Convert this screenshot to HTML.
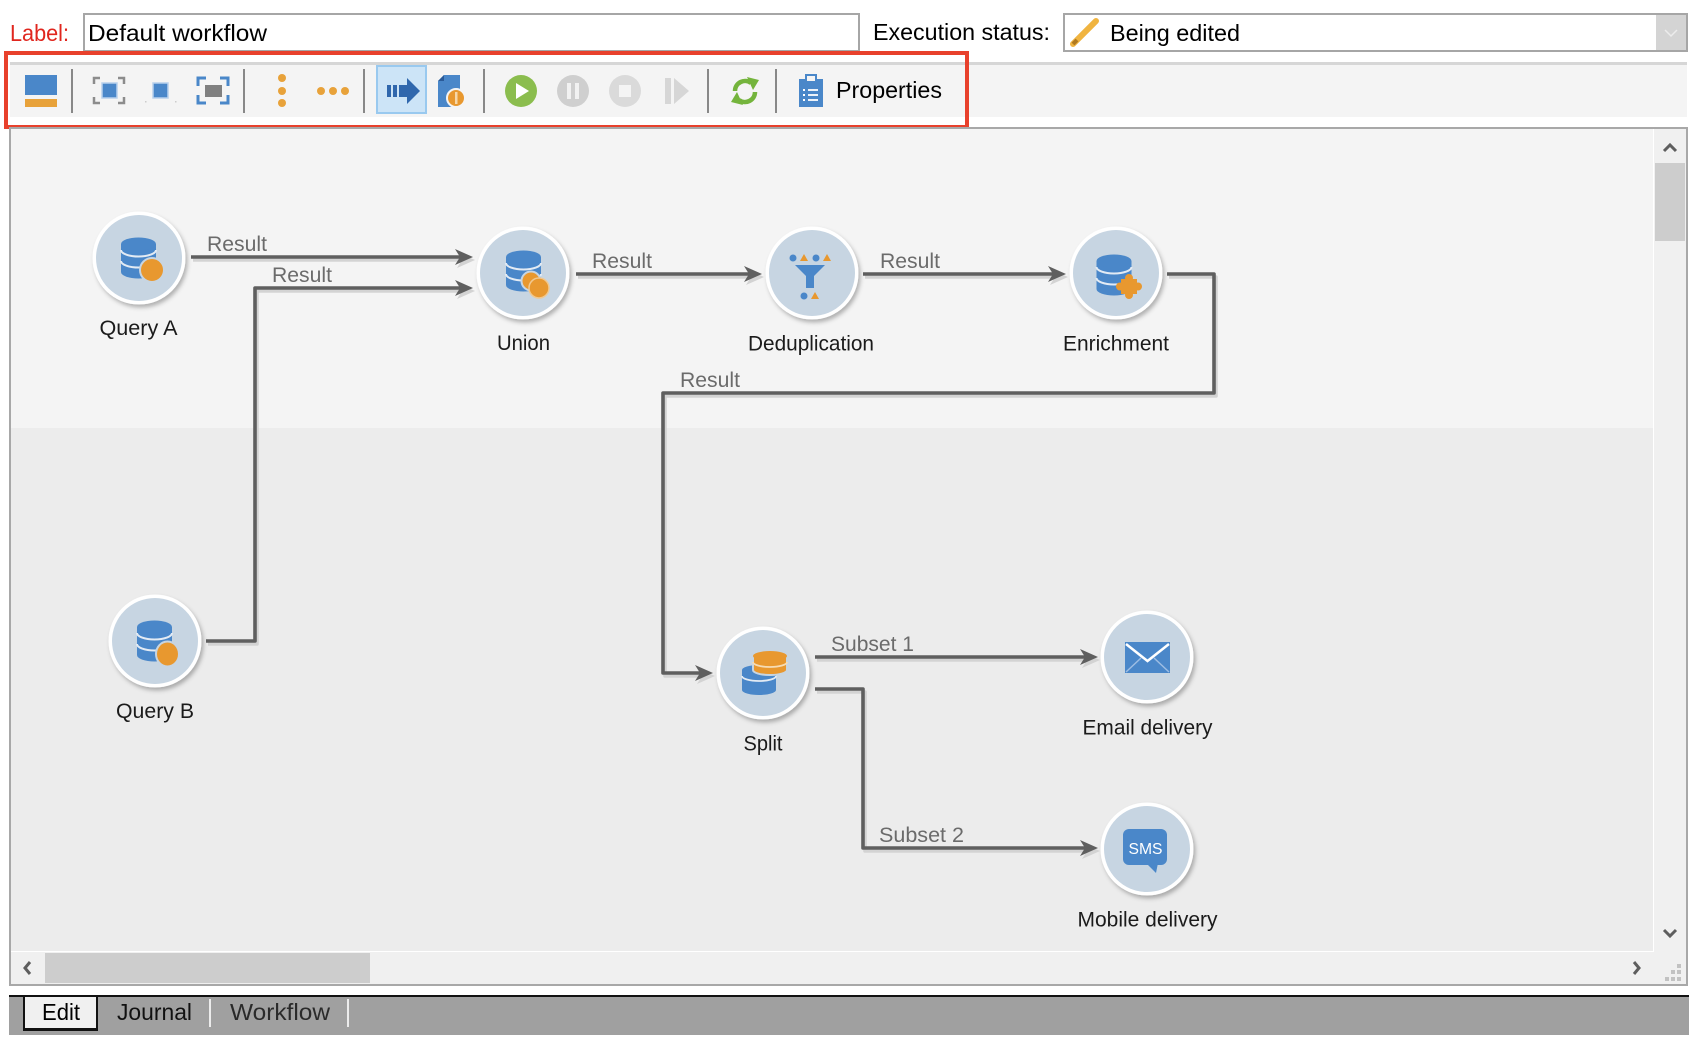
<!DOCTYPE html>
<html><head><meta charset="utf-8"><title>Workflow editor</title>
<style>
html,body{margin:0;padding:0;background:#fff;}
body{width:1702px;height:1041px;overflow:hidden;}
svg{display:block;}
</style></head>
<body>
<svg xmlns="http://www.w3.org/2000/svg" width="1702" height="1041" viewBox="0 0 1702 1041" font-family="'Liberation Sans', sans-serif">
<defs>
<filter id="sh" x="-30%" y="-30%" width="170%" height="170%">
<feDropShadow dx="2" dy="3" stdDeviation="2" flood-color="#000" flood-opacity="0.28"/>
</filter>
</defs>

<!-- ===== Header fields ===== -->
<text x="10" y="41" font-size="23" fill="#e0261e" textLength="59" lengthAdjust="spacingAndGlyphs">Label:</text>
<rect x="84" y="14" width="775" height="37" fill="#fff" stroke="#a6a6a6" stroke-width="2"/>
<text x="88" y="41" font-size="23" fill="#000" textLength="179" lengthAdjust="spacingAndGlyphs">Default workflow</text>

<text x="873" y="40" font-size="23" fill="#000" textLength="177" lengthAdjust="spacingAndGlyphs">Execution status:</text>
<rect x="1064" y="14" width="623" height="37" fill="#fff" stroke="#a6a6a6" stroke-width="2"/>
<rect x="1656" y="15" width="30" height="35" fill="#d4d4d4"/>
<polyline points="1665,30 1671,36 1677,30" fill="none" stroke="#ececec" stroke-width="1.5"/>
<!-- pencil -->
<line x1="1073" y1="44" x2="1096" y2="21" stroke="#f0b440" stroke-width="6" stroke-linecap="round"/>
<line x1="1073" y1="44" x2="1077" y2="40" stroke="#b07a20" stroke-width="4"/>
<text x="1110" y="41" font-size="23" fill="#000" textLength="130" lengthAdjust="spacingAndGlyphs">Being edited</text>

<!-- ===== Toolbar ===== -->
<rect x="10" y="62" width="1677" height="3" fill="#d6d6d6"/>
<rect x="10" y="65" width="1677" height="52" fill="#f4f4f4"/>

<!-- icon 1 -->
<rect x="25" y="75" width="32" height="20" fill="#4a87c9"/>
<rect x="25" y="99" width="32" height="8" fill="#e8a23a"/>
<!-- separators -->
<rect x="71" y="69" width="2" height="44" fill="#888"/>
<rect x="243" y="69" width="2" height="44" fill="#888"/>
<rect x="363" y="69" width="2" height="44" fill="#888"/>
<rect x="483" y="69" width="2" height="44" fill="#888"/>
<rect x="707" y="69" width="2" height="44" fill="#888"/>
<rect x="775" y="69" width="2" height="44" fill="#888"/>
<!-- icon 2 -->
<g fill="none" stroke="#8c8c8c" stroke-width="2.5">
<polyline points="94,84 94,78 100,78"/><polyline points="118,78 124,78 124,84"/>
<polyline points="94,97 94,103 100,103"/><polyline points="118,103 124,103 124,97"/>
</g>
<rect x="102" y="83" width="15" height="15" fill="#4a87c9" stroke="#b8d0ec" stroke-width="1.5"/>
<!-- icon 3 -->
<rect x="153" y="83" width="15" height="15" fill="#4a87c9" stroke="#b8d0ec" stroke-width="1.5"/>
<rect x="145" y="101" width="1.5" height="1.5" fill="#ccc"/><rect x="175" y="101" width="1.5" height="1.5" fill="#ccc"/>
<!-- icon 4 -->
<g fill="none" stroke="#4a87c9" stroke-width="3">
<polyline points="198,86 198,78 206,78"/><polyline points="220,78 228,78 228,86"/>
<polyline points="198,95 198,103 206,103"/><polyline points="220,103 228,103 228,95"/>
</g>
<rect x="205" y="85" width="17" height="12" fill="#808080"/>
<!-- icon 5/6 dots -->
<g fill="#e8a23a">
<circle cx="282" cy="78" r="4"/><circle cx="282" cy="91" r="4"/><circle cx="282" cy="103" r="4"/>
<circle cx="321" cy="91" r="4"/><circle cx="333" cy="91" r="4"/><circle cx="345" cy="91" r="4"/>
</g>
<!-- icon 7 highlighted -->
<rect x="377" y="66" width="49" height="47" fill="#cce4f7" stroke="#99c9ef" stroke-width="2"/>
<rect x="387" y="85" width="4" height="12" fill="#2f67ad"/>
<rect x="393" y="85" width="4" height="12" fill="#2f67ad"/>
<rect x="399" y="85" width="9" height="12" fill="#2f67ad"/>
<polygon points="407,78 420,91 407,104" fill="#2f67ad"/>
<!-- icon 8 -->
<path d="M444,75 H460 V107 H438 V81 Z" fill="#4a87c9"/>
<polygon points="438,81 444,75 444,81" fill="#2a5a98"/>
<circle cx="456" cy="98" r="9" fill="#e8982f" stroke="#f4f4f4" stroke-width="2"/>
<rect x="455" y="92" width="2.5" height="12" fill="#f6d7a8"/>
<!-- play / pause / stop / step -->
<circle cx="521" cy="91" r="16" fill="#8bbd4e"/>
<polygon points="516,83 529,91 516,99" fill="#fff"/>
<circle cx="573" cy="91" r="16" fill="#cfcfcf"/>
<rect x="567" y="83" width="4" height="16" fill="#f2f2f2"/><rect x="575" y="83" width="4" height="16" fill="#f2f2f2"/>
<circle cx="625" cy="91" r="16" fill="#dadada"/>
<rect x="619" y="85" width="12" height="12" fill="#f4f4f4"/>
<rect x="665" y="78" width="6" height="26" fill="#d6d6d6"/>
<polygon points="674,78 689,91 674,104" fill="#d6d6d6"/>
<!-- refresh -->
<g fill="none" stroke="#74b43c" stroke-width="4.5">
<path d="M735,91 A10,10 0 0 1 751,83"/>
<path d="M755,92 A10,10 0 0 1 739,100"/>
</g>
<polygon points="747,77 759,80 753,90" fill="#74b43c"/>
<polygon points="743,105 731,102 737,92" fill="#74b43c"/>
<!-- clipboard -->
<rect x="799" y="79" width="24" height="28" fill="#4a87c9"/>
<rect x="806" y="75" width="10" height="7" fill="#f4f4f4" stroke="#4a87c9" stroke-width="2"/>
<g stroke="#fff" stroke-width="1.8">
<line x1="808" y1="90" x2="818" y2="90"/><line x1="808" y1="95" x2="818" y2="95"/><line x1="808" y1="100" x2="818" y2="100"/>
</g>
<g fill="#fff"><rect x="803" y="89" width="2" height="2"/><rect x="803" y="94" width="2" height="2"/><rect x="803" y="99" width="2" height="2"/></g>
<text x="836" y="98" font-size="23" fill="#000" textLength="106" lengthAdjust="spacingAndGlyphs">Properties</text>

<!-- red highlight box -->
<rect x="6" y="53" width="961" height="74" fill="none" stroke="#e8412c" stroke-width="4"/>

<!-- ===== Canvas ===== -->
<rect x="11" y="129" width="1642" height="299" fill="#f4f4f4"/>
<rect x="11" y="428" width="1642" height="523" fill="#ececec"/>
<rect x="1653" y="129" width="1" height="823" fill="#fff"/>
<rect x="11" y="951" width="1643" height="1" fill="#fff"/>
<rect x="1654" y="129" width="32" height="823" fill="#f0f0f0"/>
<rect x="11" y="952" width="1675" height="32" fill="#f0f0f0"/>
<rect x="1655" y="163" width="30" height="78" fill="#cdcdcd"/>
<rect x="45" y="953" width="325" height="30" fill="#cdcdcd"/>
<g fill="none" stroke="#5e5e5e" stroke-width="3">
<polyline points="1664,151 1670,145 1676,151"/>
<polyline points="1664,930 1670,936 1676,930"/>
<polyline points="30,962 25,968 30,974"/>
<polyline points="1634,962 1639,968 1634,974"/>
</g>
<g fill="#c2c2c2">
<rect x="1677" y="964" width="4" height="4"/>
<rect x="1671" y="970" width="4" height="4"/><rect x="1677" y="970" width="4" height="4"/>
<rect x="1665" y="977" width="4" height="4"/><rect x="1671" y="977" width="4" height="4"/><rect x="1677" y="977" width="4" height="4"/>
</g>
<rect x="10" y="128" width="1677" height="857" fill="none" stroke="#a8a8a8" stroke-width="2"/>

<!-- ===== Connectors: shadows ===== -->
<g transform="translate(2,3)">
<g fill="none" stroke="#d3d3d3" stroke-width="3.6" stroke-linejoin="round">
<path d="M191,257 H460"/>
<path d="M206,641 H255 V288 H460"/>
<path d="M576,274 H749"/>
<path d="M863,274 H1053"/>
<path d="M1167,274 H1214 V393 H663 V673 H700"/>
<path d="M815,657 H1085"/>
<path d="M815,689 H863 V848 H1085"/>
</g>
<g fill="#d3d3d3">
<polygon points="473,257 455,249 460,257 455,265"/>
<polygon points="473,288 455,280 460,288 455,296"/>
<polygon points="762,274 744,266 749,274 744,282"/>
<polygon points="1066,274 1048,266 1053,274 1048,282"/>
<polygon points="713,673 695,665 700,673 695,681"/>
<polygon points="1098,657 1080,649 1085,657 1080,665"/>
<polygon points="1098,848 1080,840 1085,848 1080,856"/>
</g>
</g>
<!-- ===== Connectors ===== -->
<g fill="none" stroke="#5f5f5f" stroke-width="3.6" stroke-linejoin="round">
<path d="M191,257 H460"/>
<path d="M206,641 H255 V288 H460"/>
<path d="M576,274 H749"/>
<path d="M863,274 H1053"/>
<path d="M1167,274 H1214 V393 H663 V673 H700"/>
<path d="M815,657 H1085"/>
<path d="M815,689 H863 V848 H1085"/>
</g>
<g fill="#5f5f5f">
<polygon points="473,257 455,249 460,257 455,265"/>
<polygon points="473,288 455,280 460,288 455,296"/>
<polygon points="762,274 744,266 749,274 744,282"/>
<polygon points="1066,274 1048,266 1053,274 1048,282"/>
<polygon points="713,673 695,665 700,673 695,681"/>
<polygon points="1098,657 1080,649 1085,657 1080,665"/>
<polygon points="1098,848 1080,840 1085,848 1080,856"/>
</g>

<!-- connector labels -->
<g font-size="21" fill="#6b6b6b">
<text x="207" y="251" textLength="60" lengthAdjust="spacingAndGlyphs">Result</text>
<text x="272" y="282" textLength="60" lengthAdjust="spacingAndGlyphs">Result</text>
<text x="592" y="268" textLength="60" lengthAdjust="spacingAndGlyphs">Result</text>
<text x="880" y="268" textLength="60" lengthAdjust="spacingAndGlyphs">Result</text>
<text x="680" y="387" textLength="60" lengthAdjust="spacingAndGlyphs">Result</text>
<text x="831" y="651" textLength="83" lengthAdjust="spacingAndGlyphs">Subset 1</text>
<text x="879" y="842" textLength="85" lengthAdjust="spacingAndGlyphs">Subset 2</text>
</g>

<!-- ===== Nodes ===== -->
<!-- Query A -->
<g transform="translate(139,258)">
<circle r="46.5" fill="#fff" filter="url(#sh)"/>
<circle r="43" fill="#c7d5e2"/>
<path d="M-18,-14 V14 A17.5,6.5 0 0 0 17,14 V-14 Z" fill="#4a87c9"/>
<ellipse cx="-0.5" cy="-14" rx="17.5" ry="6.5" fill="#4a87c9"/>
<g fill="none" stroke="#e3ebf4" stroke-width="2">
<path d="M-18,-8 A17.5,6.5 0 0 0 17,-8"/><path d="M-18,3 A17.5,6.5 0 0 0 17,3"/>
</g>
<circle cx="13" cy="12" r="12" fill="#e8982f" stroke="#c7d5e2" stroke-width="2"/>
</g>
<!-- Union -->
<g transform="translate(523,273)">
<circle r="46.5" fill="#fff" filter="url(#sh)"/>
<circle r="43" fill="#c7d5e2"/>
<g transform="translate(1,-2)">
<path d="M-18,-14 V14 A17.5,6.5 0 0 0 17,14 V-14 Z" fill="#4a87c9"/>
<ellipse cx="-0.5" cy="-14" rx="17.5" ry="6.5" fill="#4a87c9"/>
<g fill="none" stroke="#e3ebf4" stroke-width="2">
<path d="M-18,-8 A17.5,6.5 0 0 0 17,-8"/><path d="M-18,3 A17.5,6.5 0 0 0 17,3"/>
</g>
</g>
<circle cx="8" cy="8" r="9.5" fill="#e8982f" stroke="#c7d5e2" stroke-width="2"/>
<circle cx="16" cy="15" r="10" fill="#e8982f" stroke="#f0c890" stroke-width="1.5"/>
</g>
<!-- Deduplication -->
<g transform="translate(812,273)">
<circle r="46.5" fill="#fff" filter="url(#sh)"/>
<circle r="43" fill="#c7d5e2"/>
<circle cx="-19" cy="-15" r="3.5" fill="#4a87c9"/>
<polygon points="-12,-12 -8,-19 -4,-12" fill="#e8982f"/>
<circle cx="4" cy="-15" r="3.5" fill="#4a87c9"/>
<polygon points="11,-12 15,-19 19,-12" fill="#e8982f"/>
<path d="M-17,-8 H13 L2,3 V15 H-6 V3 Z" fill="#4a87c9"/>
<circle cx="-8" cy="23" r="3.5" fill="#4a87c9"/>
<polygon points="-1,26 3,19 7,26" fill="#e8982f"/>
</g>
<!-- Enrichment -->
<g transform="translate(1116,273)">
<circle r="46.5" fill="#fff" filter="url(#sh)"/>
<circle r="43" fill="#c7d5e2"/>
<g transform="translate(-1.5,2)">
<path d="M-18,-14 V14 A17.5,6.5 0 0 0 17,14 V-14 Z" fill="#4a87c9"/>
<ellipse cx="-0.5" cy="-14" rx="17.5" ry="6.5" fill="#4a87c9"/>
<g fill="none" stroke="#e3ebf4" stroke-width="2">
<path d="M-18,-8 A17.5,6.5 0 0 0 17,-8"/><path d="M-18,3 A17.5,6.5 0 0 0 17,3"/>
</g>
</g>
<g fill="#e8982f" stroke="#c7d5e2" stroke-width="0">
<rect x="5" y="6" width="16" height="15"/>
<circle cx="13" cy="5" r="4"/><circle cx="22" cy="13.5" r="4"/><circle cx="13" cy="22" r="4"/><circle cx="4" cy="13.5" r="4"/>
</g>
</g>
<!-- Query B -->
<g transform="translate(155,641)">
<circle r="46.5" fill="#fff" filter="url(#sh)"/>
<circle r="43" fill="#c7d5e2"/>
<path d="M-18,-14 V14 A17.5,6.5 0 0 0 17,14 V-14 Z" fill="#4a87c9"/>
<ellipse cx="-0.5" cy="-14" rx="17.5" ry="6.5" fill="#4a87c9"/>
<g fill="none" stroke="#e3ebf4" stroke-width="2">
<path d="M-18,-8 A17.5,6.5 0 0 0 17,-8"/><path d="M-18,3 A17.5,6.5 0 0 0 17,3"/>
</g>
<ellipse cx="12.5" cy="13" rx="11.5" ry="12.5" fill="#e8982f" stroke="#c7d5e2" stroke-width="2"/>
</g>
<!-- Split -->
<g transform="translate(763,673)">
<circle r="46.5" fill="#fff" filter="url(#sh)"/>
<circle r="43" fill="#c7d5e2"/>
<path d="M-21,-3 V17 A17,5 0 0 0 13,17 V-3 Z" fill="#4a87c9"/>
<ellipse cx="-4" cy="-3" rx="17" ry="5" fill="#4a87c9"/>
<path d="M-21,3 A17,5 0 0 0 13,3" fill="none" stroke="#e3ebf4" stroke-width="1.8"/>
<g stroke="#c7d5e2" stroke-width="2">
<path d="M-10,-17 V-3 A17,5 0 0 0 24,-3 V-17 Z" fill="#e8982f"/>
</g>
<ellipse cx="7" cy="-17" rx="17" ry="5" fill="#e8982f"/>
<path d="M-10,-11 A17,5 0 0 0 24,-11" fill="none" stroke="#f6dcb4" stroke-width="1.8"/>
</g>
<!-- Email delivery -->
<g transform="translate(1147,657)">
<circle r="46.5" fill="#fff" filter="url(#sh)"/>
<circle r="43" fill="#c7d5e2"/>
<rect x="-22" y="-15" width="45" height="31" fill="#4a87c9"/>
<polyline points="-21,-13 0.5,4 22,-13" fill="none" stroke="#fff" stroke-width="2.5"/>
<line x1="-21" y1="15" x2="-6" y2="1" stroke="#9dbde3" stroke-width="1.5"/>
<line x1="22" y1="15" x2="7" y2="1" stroke="#9dbde3" stroke-width="1.5"/>
</g>
<!-- Mobile delivery -->
<g transform="translate(1147,849)">
<circle r="46.5" fill="#fff" filter="url(#sh)"/>
<circle r="43" fill="#c7d5e2"/>
<rect x="-24" y="-20" width="44" height="36" rx="6" fill="#4a87c9"/>
<polygon points="-1,14 11,14 9,24" fill="#4a87c9"/>
<text x="-1.5" y="5" font-size="16" fill="#fff" text-anchor="middle" textLength="34" lengthAdjust="spacingAndGlyphs">SMS</text>
</g>

<!-- node labels -->
<g font-size="21" fill="#1b1b1b" text-anchor="middle">
<text x="138.5" y="335" textLength="78" lengthAdjust="spacingAndGlyphs">Query A</text>
<text x="523.5" y="350" textLength="53" lengthAdjust="spacingAndGlyphs">Union</text>
<text x="811" y="350.5" textLength="126" lengthAdjust="spacingAndGlyphs">Deduplication</text>
<text x="1116" y="350.5" textLength="106" lengthAdjust="spacingAndGlyphs">Enrichment</text>
<text x="155" y="718" textLength="78" lengthAdjust="spacingAndGlyphs">Query B</text>
<text x="763" y="750.5" textLength="39" lengthAdjust="spacingAndGlyphs">Split</text>
<text x="1147.5" y="734.5" textLength="130" lengthAdjust="spacingAndGlyphs">Email delivery</text>
<text x="1147.5" y="926.5" textLength="140" lengthAdjust="spacingAndGlyphs">Mobile delivery</text>
</g>

<!-- ===== Bottom tabs ===== -->
<rect x="9" y="995" width="1680" height="2" fill="#111"/>
<rect x="9" y="997" width="1680" height="38" fill="#a0a0a0"/>
<rect x="23" y="996" width="75" height="35" fill="#111"/>
<rect x="25" y="997" width="71" height="31" fill="#f0f0f0"/>
<rect x="209" y="999" width="2" height="28" fill="#ececec"/>
<rect x="347" y="999" width="2" height="28" fill="#ececec"/>
<text x="42" y="1020" font-size="23" fill="#000" textLength="38" lengthAdjust="spacingAndGlyphs">Edit</text>
<text x="117" y="1020" font-size="23" fill="#111" textLength="75" lengthAdjust="spacingAndGlyphs">Journal</text>
<text x="230" y="1020" font-size="23" fill="#2a2a2a" textLength="100" lengthAdjust="spacingAndGlyphs">Workflow</text>
</svg>
</body></html>
